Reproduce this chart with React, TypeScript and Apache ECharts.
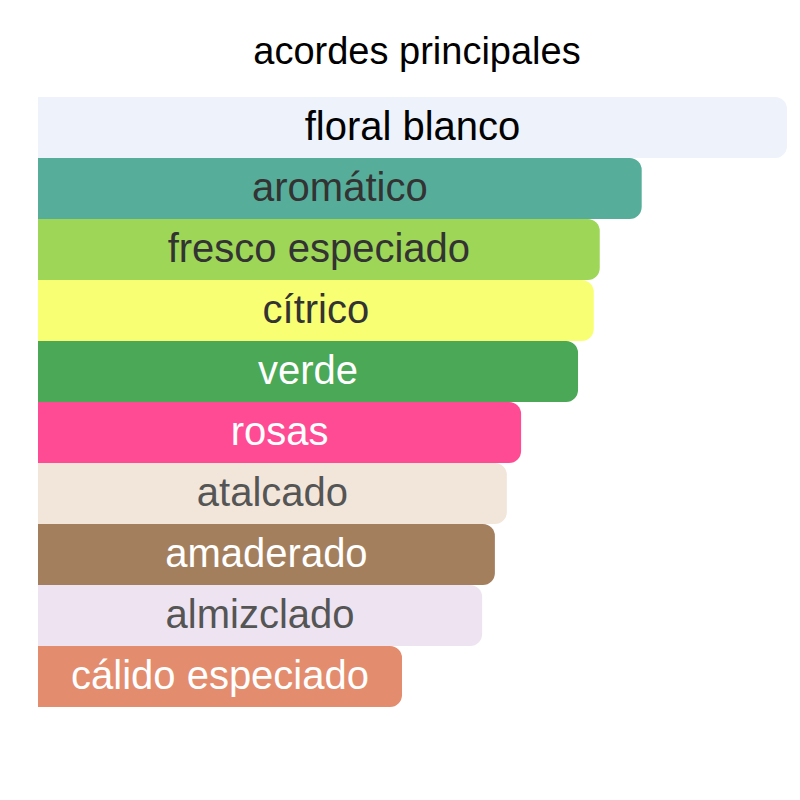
import React, { useEffect, useRef } from 'react';
import * as echarts from 'echarts';

const accords = [
  'floral blanco',
  'aromático',
  'fresco especiado',
  'cítrico',
  'verde',
  'rosas',
  'atalcado',
  'amaderado',
  'almizclado',
  'cálido especiado',
];
const strength = [100, 80.6, 75.0, 74.2, 72.1, 64.5, 62.6, 61.0, 59.3, 48.6];
const barColors = [
  '#EDF2FB', '#56AE9A', '#9ED657', '#F9FF73', '#4AA856',
  '#FF4B93', '#F2E6DB', '#A47F5E', '#EEE4F1', '#E38C6E',
];
const textColors = [
  '#000000', '#333333', '#333333', '#333333', '#ffffff',
  '#ffffff', '#555555', '#ffffff', '#555555', '#ffffff',
];

const App: React.FC = () => {
  const chartRef = useRef<HTMLDivElement>(null);

  useEffect(() => {
    if (!chartRef.current) return;
    const chart = echarts.init(chartRef.current, undefined, { renderer: 'svg' });
    chart.setOption({
      animation: false,
      title: {
        text: 'acordes principales',
        left: 404,
        top: 19,
        textAlign: 'center',
        textStyle: { fontFamily: 'Arial', fontSize: 38, fontWeight: 'normal', color: '#000' },
      },
      grid: { left: 30, right: 5, top: 89, bottom: 85 },
      xAxis: { type: 'value', min: 0, max: 100, show: false },
      yAxis: { type: 'category', data: accords, inverse: true, show: false },
      series: [{
        type: 'bar',
        barCategoryGap: 0,
        data: strength.map((v, i) => ({
          value: v,
          itemStyle: { color: barColors[i], borderRadius: [0, 12, 12, 0] },
          label: { color: textColors[i] },
        })),
        label: {
          show: true,
          position: 'inside',
          offset: [0, -2],
          formatter: (p: any) => p.name,
          fontFamily: 'Arial',
          fontSize: 40,
        },
      }],
    });
    return () => chart.dispose();
  }, []);

  return <div ref={chartRef} style={{ width: 784, height: 784 }} />;
};

export default App;
